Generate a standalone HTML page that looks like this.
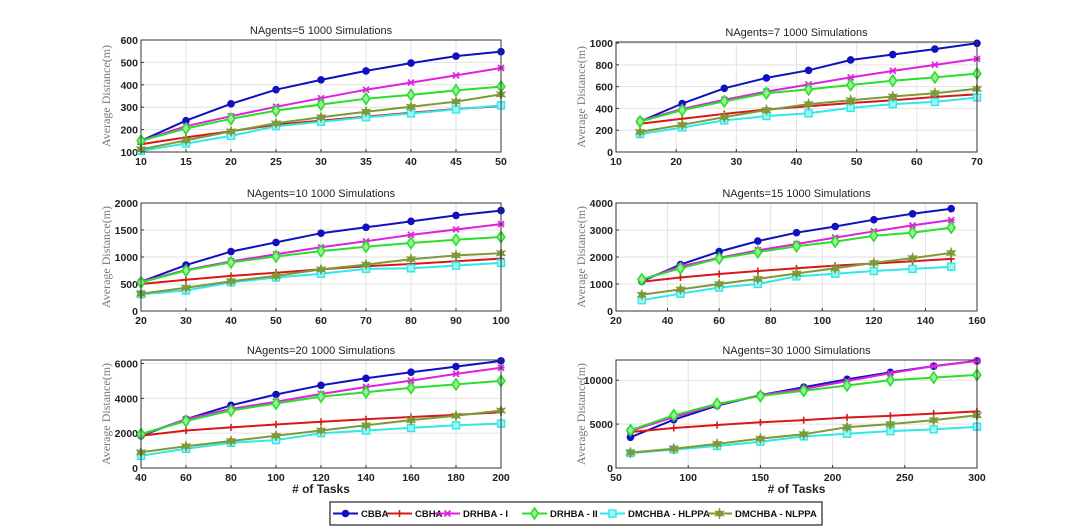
<!DOCTYPE html>
<html><head><meta charset="utf-8">
<style>
body{margin:0;background:#fff;width:1080px;height:527px;overflow:hidden;font-family:"Liberation Sans",Arial,sans-serif;}
svg{display:block}
</style></head>
<body>
<svg id="fig" width="1080" height="527" xmlns="http://www.w3.org/2000/svg"></svg>
<script>
const seriesNames = ["CBBA","CBHA","DRHBA - I","DRHBA - II","DMCHBA - HLPPA","DMCHBA - NLPPA"];
const seriesColors = ["#1010c0","#d81818","#e020e0","#28e028","#30e8e8","#7e9a38"];

const x5 = [10,15,20,25,30,35,40,45,50];
const cbba5 = [150,240,315,378,422,462,497,528,548];
const cbha5 = [135,165,193,222,240,258,275,292,305];
const dr1_5 = [150,215,260,302,340,378,410,442,475];
const dr2_5 = [150,205,248,285,312,338,355,375,392];
const hl5 = [105,138,172,215,235,255,272,290,308];
const nl5 = [112,152,192,228,255,280,302,325,357];

const x7 = [14,21,28,35,42,49,56,63,70];
const cbba7 = [280,445,585,680,750,845,895,945,998];
const cbha7 = [260,305,350,390,420,450,475,505,530];
const dr1_7 = [285,395,480,555,620,685,745,800,855];
const dr2_7 = [280,385,465,540,575,615,655,685,720];
const hl7 = [165,225,290,330,355,405,440,460,500];
const nl7 = [185,250,320,385,440,475,510,540,580];

const x10 = [20,30,40,50,60,70,80,90,100];
const cbba10 = [540,850,1100,1270,1440,1550,1660,1770,1860];
const cbha10 = [500,580,650,710,770,830,870,920,970];
const dr1_10 = [540,760,920,1050,1180,1290,1410,1510,1610];
const dr2_10 = [530,750,900,1010,1110,1190,1260,1320,1370];
const hl10 = [310,380,530,620,690,780,790,840,890];
const nl10 = [320,430,550,650,770,860,960,1030,1070];

const x15 = [30,45,60,75,90,105,120,135,150];
const cbba15 = [1100,1720,2200,2590,2900,3130,3380,3600,3790];
const cbha15 = [1080,1240,1370,1480,1580,1680,1760,1840,1930];
const dr1_15 = [1150,1650,1970,2250,2480,2720,2950,3170,3370];
const dr2_15 = [1170,1580,1950,2180,2400,2570,2790,2900,3090];
const hl15 = [400,640,870,1000,1280,1380,1480,1560,1640];
const nl15 = [600,800,1000,1190,1390,1580,1780,1960,2150];

const x20 = [40,60,80,100,120,140,160,180,200];
const cbba20 = [1850,2800,3600,4220,4750,5150,5500,5820,6150];
const cbha20 = [1850,2150,2330,2500,2650,2800,2930,3050,3200];
const dr1_20 = [1900,2800,3400,3800,4250,4650,5020,5400,5750];
const dr2_20 = [1950,2700,3300,3700,4100,4350,4600,4800,5000];
const hl20 = [700,1100,1450,1600,2000,2150,2300,2450,2550];
const nl20 = [900,1250,1550,1850,2150,2450,2750,3000,3300];

const x30 = [60,90,120,150,180,210,240,270,300];
const cbba30 = [3500,5500,7100,8300,9200,10100,10900,11600,12200];
const cbha30 = [4100,4550,4900,5200,5450,5750,5950,6200,6450];
const dr1_30 = [4200,5800,7200,8300,9000,9900,10800,11600,12200];
const dr2_30 = [4300,6000,7300,8200,8800,9400,10000,10300,10600];
const hl30 = [1700,2100,2500,3000,3600,3900,4200,4400,4700];
const nl30 = [1750,2200,2750,3350,3850,4650,5000,5450,6000];

const xTicks5=[10,15,20,25,30,35,40,45,50], yTicks5=[100,200,300,400,500,600];
const xTicks7=[10,20,30,40,50,60,70], yTicks7=[0,200,400,600,800,1000];
const xTicks10=[20,30,40,50,60,70,80,90,100], yTicks10=[0,500,1000,1500,2000];
const xTicks15=[20,40,60,80,100,120,140,160], yTicks15=[0,1000,2000,3000,4000];
const xTicks20=[40,60,80,100,120,140,160,180,200], yTicks20=[0,2000,4000,6000];
const xTicks30=[50,100,150,200,250,300], yTicks30=[0,5000,10000];

const NS="http://www.w3.org/2000/svg";
const fig=document.getElementById('fig');
function mk(tag,attrs,parent){const e=document.createElementNS(NS,tag);for(const k in attrs)e.setAttribute(k,attrs[k]);(parent||fig).appendChild(e);return e;}

function marker(g,i,x,y){
  const c=seriesColors[i];
  let m;
  if(i===0){m=mk('circle',{cx:x,cy:y,r:3.3,fill:c,stroke:c},g);}
  else if(i===1){m=mk('path',{d:`M${x-3.5},${y}H${x+3.5}M${x},${y-3.5}V${y+3.5}`,stroke:c,'stroke-width':1.6,fill:'none'},g);}
  else if(i===2){m=mk('path',{d:`M${x-3},${y-3}L${x+3},${y+3}M${x-3},${y+3}L${x+3},${y-3}M${x-3.5},${y}H${x+3.5}`,stroke:c,'stroke-width':1.6,fill:'none'},g);}
  else if(i===3){m=mk('path',{d:`M${x},${y-5.5}L${x+3.8},${y}L${x},${y+5.5}L${x-3.8},${y}Z`,stroke:c,'stroke-width':1.6,fill:'#9af09a'},g);}
  else if(i===4){m=mk('rect',{x:x-3.5,y:y-3.5,width:7,height:7,stroke:c,'stroke-width':1.4,fill:'#a0f4f4'},g);}
  else {let p='';for(let k=0;k<12;k++){const a=-Math.PI/2+k*Math.PI/6;const r=k%2?2.3:5;p+=(k?'L':'M')+(x+r*Math.cos(a)).toFixed(2)+','+(y+r*Math.sin(a)).toFixed(2);}m=mk('path',{d:p+'Z',fill:c,stroke:c,'stroke-width':0.8},g);}
  
  
}

function chart(cfg){
  const g=mk('g',{});
  
  
  const {L,R,T,B,xmin,xmax,ymin,ymax}=cfg;
  const sx=v=>L+(v-xmin)/(xmax-xmin)*(R-L);
  const sy=v=>B-(v-ymin)/(ymax-ymin)*(B-T);
  mk('rect',{x:L,y:T,width:R-L,height:B-T,fill:'#fff'},g);
  cfg.xt.forEach(t=>{const X=sx(t);
    mk('line',{x1:X,x2:X,y1:T,y2:B,stroke:'#e2e2e2','stroke-width':1},g);
    mk('line',{x1:X,x2:X,y1:B,y2:B-3,stroke:'#333','stroke-width':1},g);
    const tx=mk('text',{x:X,y:B+13,'text-anchor':'middle','font-size':10.5,'font-weight':'bold',fill:'#222'},g);tx.textContent=t;
    
    
  });
  cfg.yt.forEach(t=>{const Y=sy(t);
    mk('line',{x1:L,x2:R,y1:Y,y2:Y,stroke:'#e2e2e2','stroke-width':1},g);
    mk('line',{x1:L,x2:L+3,y1:Y,y2:Y,stroke:'#333','stroke-width':1},g);
    const ty=mk('text',{x:L-3,y:Y+4,'text-anchor':'end','font-size':10.5,'font-weight':'bold',fill:'#222'},g);ty.textContent=t;
    
    
  });
  cfg.series.forEach((ys,i)=>{
    const pts=cfg.x.map((xv,j)=>sx(xv).toFixed(1)+','+sy(ys[j]).toFixed(1)).join(' ');
    const pl=mk('polyline',{points:pts,fill:'none',stroke:seriesColors[i],'stroke-width':2},g);
    
    
    cfg.x.forEach((xv,j)=>marker(g,i,sx(xv),sy(ys[j])));
  });
  mk('rect',{x:L,y:T,width:R-L,height:B-T,fill:'none',stroke:'#333','stroke-width':1},g);
  const tt=mk('text',{x:(L+R)/2,y:T-6,'text-anchor':'middle','font-size':11,fill:'#222'},g);tt.textContent=cfg.title;
  
  
  const yl=mk('text',{x:0,y:0,transform:`translate(${L-31},${(T+B)/2}) rotate(-90)`,'text-anchor':'middle','font-size':12,fill:'#777','font-family':'"Liberation Serif",serif'},g);yl.textContent='Average Distance(m)';
  
  
  if(cfg.xlabel){const xl=mk('text',{x:(L+R)/2,y:B+25,'text-anchor':'middle','font-size':12,'font-weight':'bold',fill:'#222'},g);xl.textContent='# of Tasks';
    
    }
}

chart({name:'chart-nagents-5',title:'NAgents=5 1000 Simulations',L:141,R:501,T:40,B:152,xmin:10,xmax:50,ymin:100,ymax:600,xt:xTicks5,yt:yTicks5,x:x5,series:[cbba5,cbha5,dr1_5,dr2_5,hl5,nl5]});
chart({name:'chart-nagents-7',title:'NAgents=7 1000 Simulations',L:616,R:977,T:42,B:152,xmin:10,xmax:70,ymin:0,ymax:1010,xt:xTicks7,yt:yTicks7,x:x7,series:[cbba7,cbha7,dr1_7,dr2_7,hl7,nl7]});
chart({name:'chart-nagents-10',title:'NAgents=10 1000 Simulations',L:141,R:501,T:203,B:311,xmin:20,xmax:100,ymin:0,ymax:2000,xt:xTicks10,yt:yTicks10,x:x10,series:[cbba10,cbha10,dr1_10,dr2_10,hl10,nl10]});
chart({name:'chart-nagents-15',title:'NAgents=15 1000 Simulations',L:616,R:977,T:203,B:311,xmin:20,xmax:160,ymin:0,ymax:4000,xt:xTicks15,yt:yTicks15,x:x15,series:[cbba15,cbha15,dr1_15,dr2_15,hl15,nl15]});
chart({name:'chart-nagents-20',title:'NAgents=20 1000 Simulations',L:141,R:501,T:360,B:468,xmin:40,xmax:200,ymin:0,ymax:6200,xt:xTicks20,yt:yTicks20,x:x20,series:[cbba20,cbha20,dr1_20,dr2_20,hl20,nl20],xlabel:true});
chart({name:'chart-nagents-30',title:'NAgents=30 1000 Simulations',L:616,R:977,T:360,B:468,xmin:50,xmax:300,ymin:0,ymax:12300,xt:xTicks30,yt:yTicks30,x:x30,series:[cbba30,cbha30,dr1_30,dr2_30,hl30,nl30],xlabel:true});

// legend
const lg=mk('g',{});


mk('rect',{x:330,y:502,width:492,height:23,fill:'#fff',stroke:'#222','stroke-width':1.2},lg);
const lx=[333,387,435,522,600,707];
seriesNames.forEach((n,i)=>{
  const e=mk('g',{},lg);
  
  
  mk('line',{x1:lx[i],x2:lx[i]+25,y1:513.5,y2:513.5,stroke:seriesColors[i],'stroke-width':2},e);
  marker(e,i,lx[i]+12.5,513.5);
  const t=mk('text',{x:lx[i]+28,y:517,'font-size':9.5,'font-weight':'bold',fill:'#111'},e);t.textContent=n;
});
</script>
</body></html>
